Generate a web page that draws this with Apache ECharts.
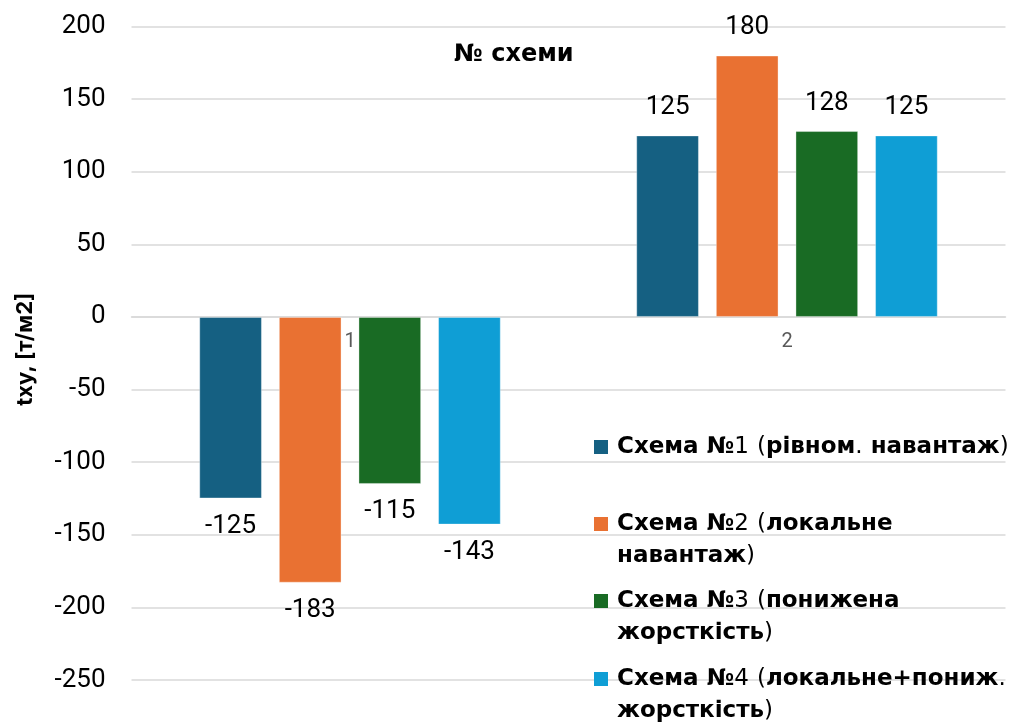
<!DOCTYPE html>
<html>
<head>
<meta charset="utf-8">
<script src="https://cdn.jsdelivr.net/npm/echarts@6/dist/echarts.min.js"></script>
<style>
  html, body { margin: 0; padding: 0; background: #fff; }
  #chart { width: 1013px; height: 727px; }
</style>
</head>
<body>
<div id="chart"></div>
<script>
// Categories (scheme group numbers) and the four load schemes
const categories = ['1', '2'];
const seriesNames = [
  'Схема №1 (рівном. навантаж)',
  'Схема №2 (локальне навантаж)',
  'Схема №3 (понижена жорсткість)',
  'Схема №4 (локальне+пониж. жорсткість)'
];
const scheme1 = [-125, 125];
const scheme2 = [-183, 180];
const scheme3 = [-115, 128];
const scheme4 = [-143, 125];
const seriesValues = [scheme1, scheme2, scheme3, scheme4];
const seriesColors = ['#156082', '#E97132', '#196B24', '#0F9ED5'];
const yMin = -250, yMax = 200, yStep = 50;

const FONT = 'Roboto, "Noto Sans", sans-serif';
const WIDE_FONT = '"DejaVu Sans", Inter, sans-serif';
const NAME_FONT = 'Inter, Roboto, sans-serif';

// Negative values are labelled below the bar, positive ones above
function barData(values) {
  return values.map(v => ({ value: v, label: { position: v < 0 ? 'bottom' : 'top' } }));
}

// Letters in bold, digits and punctuation in regular weight; long names wrap once
function legendText(name) {
  let text = name;
  if (name.length > 27) {
    const i = name.lastIndexOf(' ');
    text = name.slice(0, i) + '\n' + name.slice(i + 1);
  }
  return text.split('\n').map(line =>
    line.replace(/([0-9().]+)|([^0-9().]+)/g, (m, reg, bold) => reg ? '{r|' + reg + '}' : '{b|' + bold + '}')
  ).join('\n');
}

const LINE_H = 32;
const legendTops = [431, 476, 553, 631];

// Grid geometry; the category axis sits on the zero line of the value axis
const GRID = { left: 131.5, right: 7.5, top: 26.5, bottom: 47 };
const plotH = 727 - GRID.top - GRID.bottom;
const zeroOffset = plotH * (0 - yMin) / (yMax - yMin);

const chart = echarts.init(document.getElementById('chart'), null, { renderer: 'canvas' });

chart.setOption({
  animation: false,
  backgroundColor: '#fff',
  title: {
    text: '№ схеми',
    left: 449,
    top: 38,
    textStyle: { fontFamily: WIDE_FONT, fontSize: 24, fontWeight: 'bold', color: '#000' }
  },
  grid: Object.assign({ containLabel: false }, GRID),
  legend: seriesNames.map((n, i) => {
    const multi = n.length > 27;
    return {
      data: [n],
      orient: 'vertical',
      left: 594,
      top: legendTops[i],
      padding: 0,
      icon: 'rect',
      itemWidth: 14,
      itemHeight: 14,
      selectedMode: false,
      itemStyle: { borderWidth: 0 },
      formatter: legendText,
      textStyle: {
        padding: multi ? [LINE_H, 0, 0, 4] : [0, 0, 0, 4],
        lineHeight: LINE_H,
        rich: {
          b: { fontFamily: WIDE_FONT, fontSize: 23, fontWeight: 'bold', color: '#000', lineHeight: LINE_H },
          r: { fontFamily: WIDE_FONT, fontSize: 23, fontWeight: 'normal', color: '#000', lineHeight: LINE_H }
        }
      }
    };
  }),
  xAxis: {
    type: 'category',
    data: categories,
    position: 'bottom',
    offset: -zeroOffset,
    axisLine: { onZero: false, lineStyle: { color: '#d9d9d9', width: 1.5 } },
    axisTick: { show: false },
    axisLabel: { fontFamily: FONT, fontSize: 20, color: '#595959', margin: 15 },
    splitLine: { show: false }
  },
  yAxis: {
    type: 'value',
    min: yMin,
    max: yMax,
    interval: yStep,
    name: 'txy, [т/м2]',
    nameLocation: 'middle',
    nameGap: 95,
    nameRotate: 90,
    nameTextStyle: { fontFamily: NAME_FONT, fontSize: 22, fontWeight: 'bold', color: '#000', padding: [0, 0, 0, 8] },
    axisLine: { show: false },
    axisTick: { show: false },
    axisLabel: { fontFamily: FONT, fontSize: 26, color: '#000', margin: 26 },
    splitLine: { lineStyle: { color: '#d9d9d9', width: 1.5 } }
  },
  series: seriesValues.map((vals, i) => ({
    name: seriesNames[i],
    type: 'bar',
    data: barData(vals),
    barGap: '27%',
    barCategoryGap: '31%',
    itemStyle: { color: seriesColors[i], borderColor: 'rgba(255,255,255,0.35)', borderWidth: 1 },
    label: {
      show: true,
      distance: 15,
      fontFamily: FONT,
      fontSize: 26,
      color: '#000'
    }
  }))
});
</script>
</body>
</html>
